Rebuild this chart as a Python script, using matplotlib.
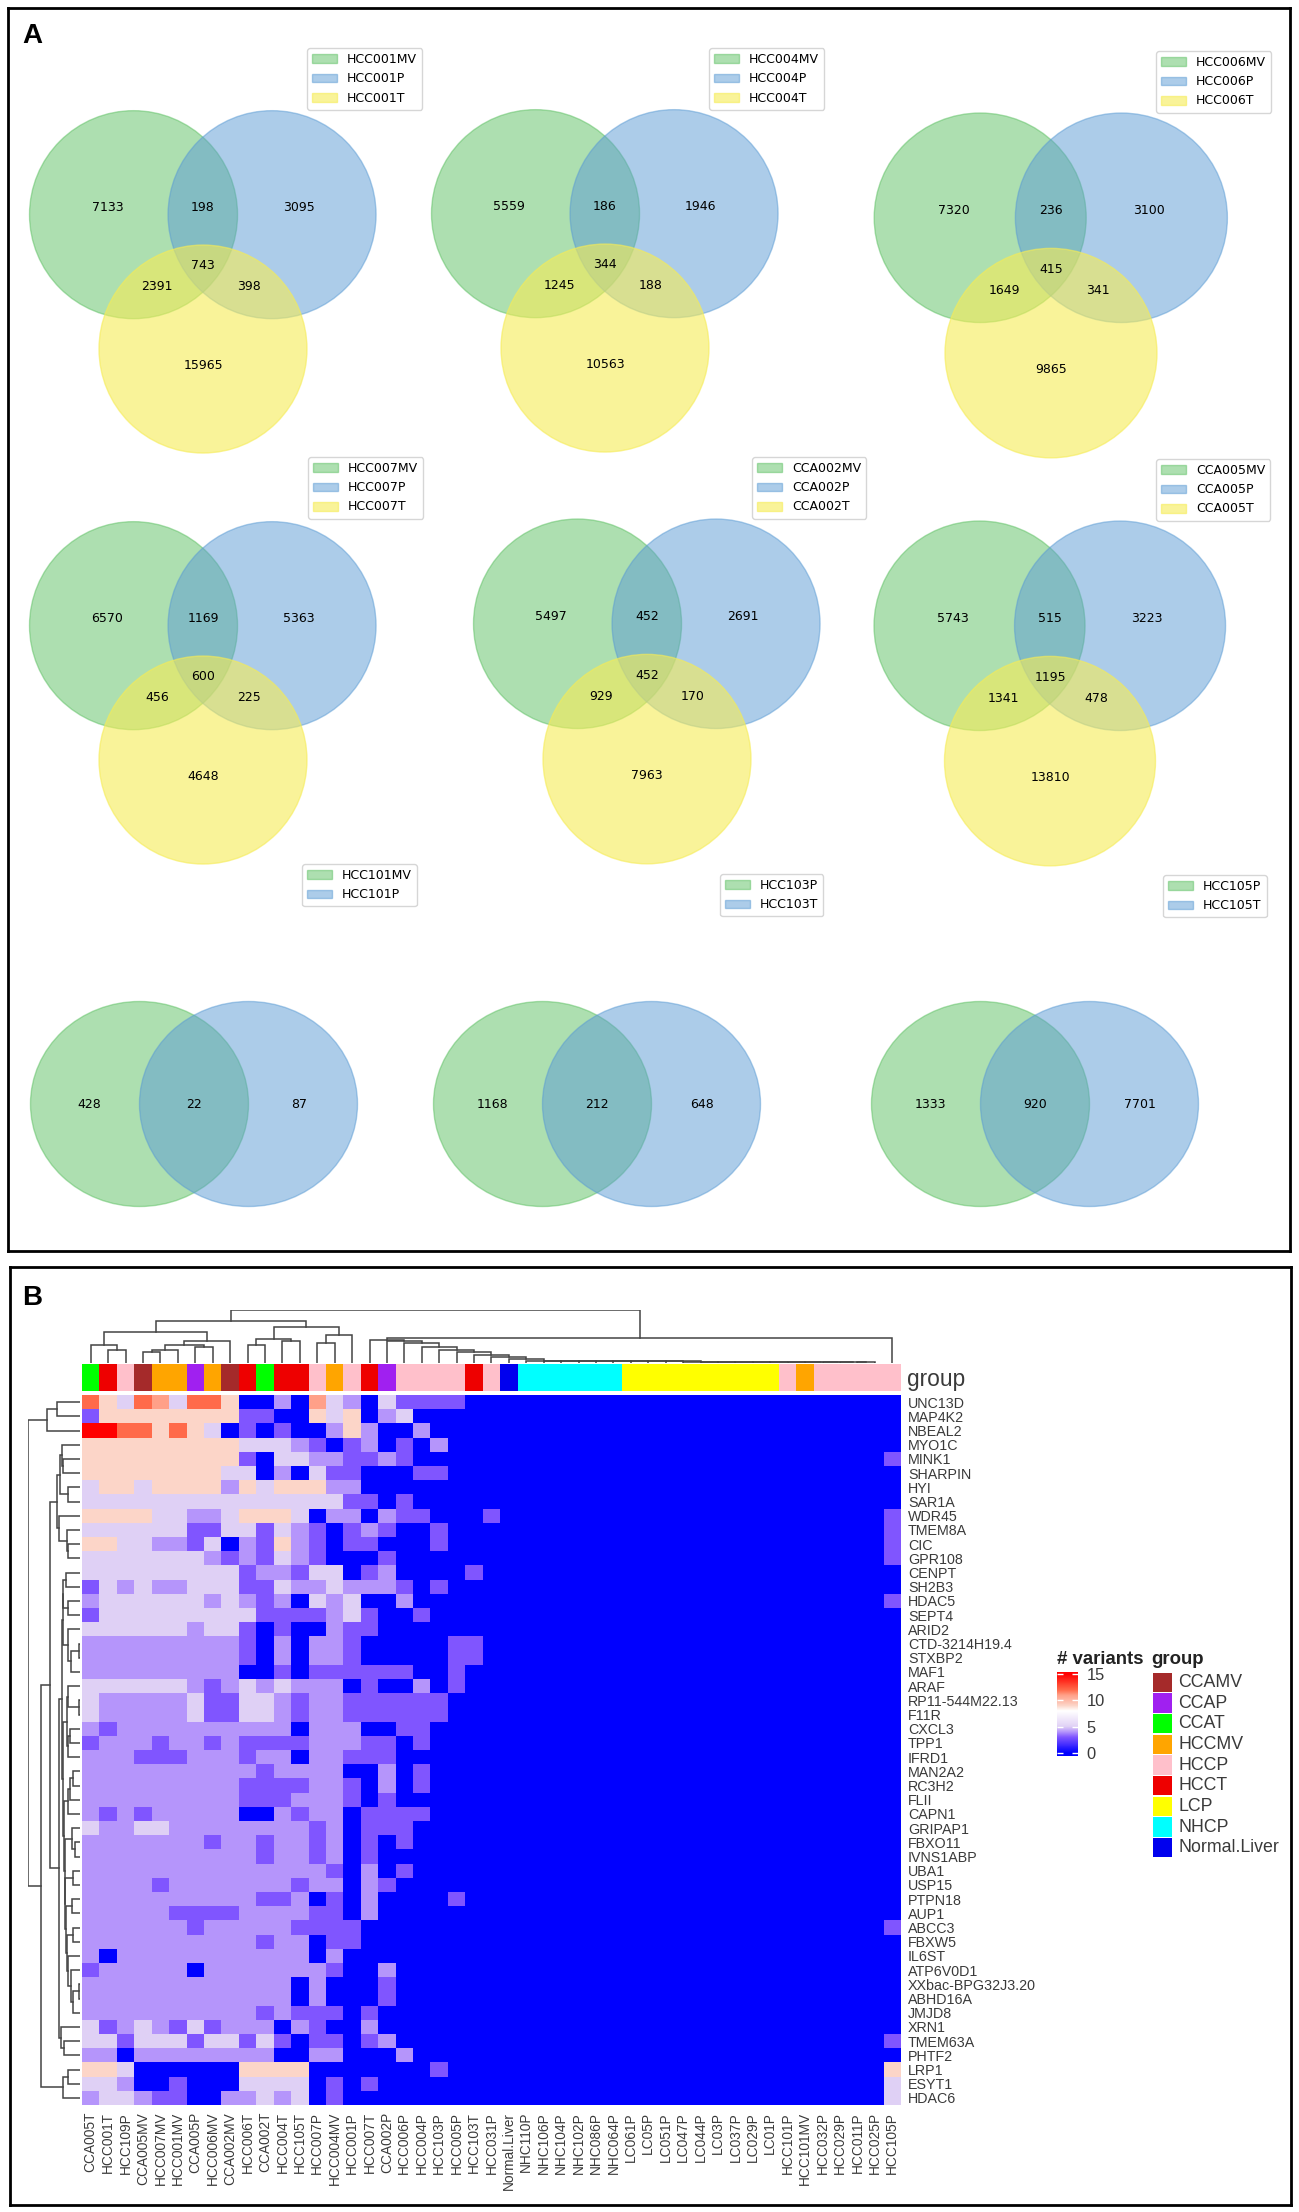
import numpy as np
import matplotlib
matplotlib.use('Agg')
import matplotlib.pyplot as plt
from matplotlib.colors import LinearSegmentedColormap, ListedColormap, Normalize
from matplotlib.cm import ScalarMappable
from matplotlib.patches import Ellipse, Patch

W, H = 1299, 2212
SANS = 'Liberation Sans'
TXT = '#3a3a3a'

# ---- panel A data
VENN3_NAMES = [
    ['HCC001MV', 'HCC001P', 'HCC001T'],
    ['HCC004MV', 'HCC004P', 'HCC004T'],
    ['HCC006MV', 'HCC006P', 'HCC006T'],
    ['HCC007MV', 'HCC007P', 'HCC007T'],
    ['CCA002MV', 'CCA002P', 'CCA002T'],
    ['CCA005MV', 'CCA005P', 'CCA005T'],
]
# order: 100, 110, 010, 111, 101, 011, 001
VENN3_COUNTS = [
    [7133, 198, 3095, 743, 2391, 398, 15965],
    [5559, 186, 1946, 344, 1245, 188, 10563],
    [7320, 236, 3100, 415, 1649, 341, 9865],
    [6570, 1169, 5363, 600, 456, 225, 4648],
    [5497, 452, 2691, 452, 929, 170, 7963],
    [5743, 515, 3223, 1195, 1341, 478, 13810],
]
VENN2_NAMES = [
    ['HCC101MV', 'HCC101P'],
    ['HCC103P', 'HCC103T'],
    ['HCC105P', 'HCC105T'],
]
# order: 10, 11, 01
VENN2_COUNTS = [
    [428, 22, 87],
    [1168, 212, 648],
    [1333, 920, 7701],
]

# ---- panel B data
SAMPLES = ['CCA005T', 'HCC001T', 'HCC109P', 'CCA005MV', 'HCC007MV', 'HCC001MV', 'CCA005P', 'HCC006MV',
           'CCA002MV', 'HCC006T', 'CCA002T', 'HCC004T', 'HCC105T', 'HCC007P', 'HCC004MV', 'HCC001P',
           'HCC007T', 'CCA002P', 'HCC006P', 'HCC004P', 'HCC103P', 'HCC005P', 'HCC103T', 'HCC031P',
           'Normal.Liver', 'NHC110P', 'NHC106P', 'NHC104P', 'NHC102P', 'NHC086P', 'NHC064P', 'LC061P',
           'LC05P', 'LC051P', 'LC047P', 'LC044P', 'LC03P', 'LC037P', 'LC029P', 'LC01P', 'HCC101P',
           'HCC101MV', 'HCC032P', 'HCC029P', 'HCC011P', 'HCC025P', 'HCC105P']
SAMPLE_GROUPS = ['CCAT', 'HCCT', 'HCCP', 'CCAMV', 'HCCMV', 'HCCMV', 'CCAP', 'HCCMV', 'CCAMV', 'HCCT', 'CCAT',
                 'HCCT', 'HCCT', 'HCCP', 'HCCMV', 'HCCP', 'HCCT', 'CCAP', 'HCCP', 'HCCP', 'HCCP', 'HCCP',
                 'HCCT', 'HCCP', 'Normal.Liver', 'NHCP', 'NHCP', 'NHCP', 'NHCP', 'NHCP', 'NHCP', 'LCP', 'LCP',
                 'LCP', 'LCP', 'LCP', 'LCP', 'LCP', 'LCP', 'LCP', 'HCCP', 'HCCMV', 'HCCP', 'HCCP', 'HCCP',
                 'HCCP', 'HCCP']
GROUPS = ['CCAMV', 'CCAP', 'CCAT', 'HCCMV', 'HCCP', 'HCCT', 'LCP', 'NHCP', 'Normal.Liver']
GROUP_COLORS = ['#a52a2a', '#a020f0', '#00ff00', '#ffa500', '#ffc0cb', '#ee0000', '#ffff00', '#00ffff', '#0000ee']
GENES = ['UNC13D', 'MAP4K2', 'NBEAL2', 'MYO1C', 'MINK1', 'SHARPIN', 'HYI', 'SAR1A', 'WDR45', 'TMEM8A', 'CIC',
         'GPR108', 'CENPT', 'SH2B3', 'HDAC5', 'SEPT4', 'ARID2', 'CTD-3214H19.4', 'STXBP2', 'MAF1', 'ARAF',
         'RP11-544M22.13', 'F11R', 'CXCL3', 'TPP1', 'IFRD1', 'MAN2A2', 'RC3H2', 'FLII', 'CAPN1', 'GRIPAP1',
         'FBXO11', 'IVNS1ABP', 'UBA1', 'USP15', 'PTPN18', 'AUP1', 'ABCC3', 'FBXW5', 'IL6ST', 'ATP6V0D1',
         'XXbac-BPG32J3.20', 'ABHD16A', 'JMJD8', 'XRN1', 'TMEM63A', 'PHTF2', 'LRP1', 'ESYT1', 'HDAC6']

# one hex digit per sample, first 24 samples only, the rest are zero
VARIANTS = [
    'c95cb5cc9 004 0b5 405 3333 00',
    '3 99999999 33 00 9 5 9 0 4 5 00000',
    'ffcc9c95 0303 00 494 00 4 0000',
    '999999999 555 4 3 0 3 4 0 3 0 4 000',
    '999999999 3 0 55 44 33 4 3 00000',
    '99999999 55 0 4 0 5 33 000 33 000',
    '5 99 5 9999 4 9 5 999 44 00000000',
    '555555555555555 33 0 3 00000',
    '9999 55 44 5 999 5 0 44 0 4 33 000 3',
    '555555 33 55 3 5 4 3 0 3 4 3 00 3 000',
    '99 55 44 3 5 0 4 3 9 4 3 0 33 000 3 000',
    '5555555 4 3 4 3 5 4 3 000 3 000000',
    '555555555 3 44 3 55 0 3 4 0000 3 0',
    '3 5 4 5 44 555 33 5 44 5 444 3 0 3 000',
    '4 555555 4 5 4 3 4 0 5 4 5 00 4 00000',
    '3 555555555 3333 4 5 3 00 3 0000',
    '555555 4 55 3 0 3 00 4 33 0000000',
    '444444444 3 0 4 0 44 3 00000 33 0',
    '444444444 3 0 4 0 44 3 00000 33 0',
    '444444444 00 3 0 333333 00 3 00',
    '555555 4 3 4 5 4 5 444 0 3 00 4 0 3 00',
    '5 44444 5 33 55 4 3 44 333333 000',
    '5 44444 5 33 55 4 3 44 333333 000',
    '4 3 4444444444 0 444 00 33 0000',
    '3 444 3 44 3 4 3333 444 33 0 3 0000',
    '444 333 444 3 44 0 44 333 000000',
    '4444444444 3 4444 00 4 0 3 0000',
    '444444444 3333 44 3 0 4 0 3 0000',
    '444444444 333 444 3 0 3 000000',
    '4343 44444 00 4 3 44 0 3333 0000',
    '5 44 55 44444444 3 4 0 333 00000',
    '4444444 3 44 3 44 3 4 0 3 0 3 00000',
    '4444444444 3 44 3 4 0 3 0000000',
    '44444444444444 3 0 4 0 3 00000',
    '4444 3 4444444 3 44 0 4 3 000000',
    '4444444444 33 4 0 3 0 4 0000 3 00',
    '44444 3333 4444 33 0 4 0000000',
    '444444 3 44444 3333 00000000',
    '4444444444 3 44 0 33 00000000',
    '4 0 44444444444 0 4 000000000',
    '3 44444 0 4444444 3 00 4 000000',
    '444444444444 0 4 000 3 000000',
    '444444444444 0 4 000 3 000000',
    '4444444444 3 4 333 0 3 0000000',
    '53454353 444 0 4 3 00 4 0000000',
    '55 3 555 3 55 3 5 3 0 33 0 3 4 000000',
    '44 0 44444444 00 44 000 4 00000',
    '99 5 000000 9999 0000000 3 000',
    '55 4 00 3 000 5555 0 3 0 3 0000000',
    '4 55 4 33 00 44 5 4 5 0 3 000000000',
]
# HCC105P column, keyed by gene
LAST_SAMPLE_VARIANTS = {'MINK1': 3, 'WDR45': 3, 'TMEM8A': 3, 'CIC': 3, 'GPR108': 3, 'HDAC5': 3, 'ABCC3': 3,
                        'TMEM63A': 3, 'LRP1': 9, 'ESYT1': 5, 'HDAC6': 5}

COLOR_VALUES = [0, 3, 4, 5, 8, 9, 11, 12, 15]
COLOR_STOPS = ['#0000ff', '#8055ff', '#b595fb', '#dfd0f5', '#ffffff', '#fcd5c8', '#ffa088', '#ff6a4a', '#ff0000']

# dendrograms: (height, left, right), leaves are column / row numbers
CHAIN_HEIGHTS = [68, 66, 60, 48, 38, 33, 23, 16, 10,
                 6, 6, 5, 5, 5, 4, 4, 4, 4, 3, 3, 3, 3, 3, 3, 2, 2, 2, 2, 2]
COL_LEFT = (93, (54, 0, (38, 1, 2)), (65, (52, (38, (33, 3, 4), 5), (48, 6, 7)), 8))
COL_MID = (106, (70, (53, 9, 10), (66, 11, 12)), (83, (60, 13, 14), 15))

ROW_TOP = (100, (70, 0, 1), 2)
ROW_A = (70, (60, (55, 3, (50, 4, 5)), (35, 6, 7)), (62, 8, (40, 9, (35, 10, 11))))
ROW_B = (52, (50, (42, 12, 13), (35, 14, 15)), (35, 16, (27, (2, 17, 18), 19)))
ROW_C = (50, (40, (35, 20, (4, 21, 22)), (35, (30, 23, 24), 25)),
         (48, (35, (30, (20, 26, 27), 28), 29),
          (46, (25, 30, (15, 31, 32)),
           (44, (20, 33, 34),
            (42, (25, 35, 36),
             (40, (20, 37, 38),
              (35, 39, (28, 40, (20, (4, 41, 42), 43)))))))))
ROW_D = (58, 44, (48, 45, 46))
ROW_E = (50, (35, 47, 48), 49)
ROW_TREE = (156, ROW_TOP, (118, (90, ROW_A, (62, (54, ROW_B, ROW_C), ROW_D)), ROW_E))

# ---- venn styling, positions inside each venn box
V_GREEN = (92 / 255, 192 / 255, 98 / 255, 0.5)
V_BLUE = (90 / 255, 155 / 255, 212 / 255, 0.5)
V_YELLOW = (246 / 255, 236 / 255, 86 / 255, 0.6)
V3_CIRCLES = [(0.333, 0.633), (0.666, 0.633), (0.5, 0.310)]
V3_TEXT = [(0.27, 0.65), (0.50, 0.65), (0.73, 0.65), (0.50, 0.51), (0.39, 0.46), (0.61, 0.46), (0.50, 0.27)]
V2_CIRCLES = [(0.375, 0.3), (0.625, 0.3)]
V2_TEXT = [(0.26, 0.30), (0.50, 0.30), (0.74, 0.30)]

fig = plt.figure(figsize=(W / 100, H / 100), dpi=100)


def px_axes(x0, y0, x1, y1):
    # axes placed with picture pixels, y going down
    ax = fig.add_axes([x0 / W, 1 - y1 / H, (x1 - x0) / W, (y1 - y0) / H])
    ax.patch.set_alpha(0)
    return ax


def venn(box, colors, names, counts, circles, text_pos, ylim, legend_xy):
    ax = px_axes(*box)
    ax.set_xlim(0, 1)
    ax.set_ylim(0, ylim)
    ax.axis('off')
    handles = []
    for (cx, cy), c, name in zip(circles, colors, names):
        ax.add_patch(Ellipse((cx, cy), 0.5, 0.5, fc=c, ec=c, lw=1))
        handles.append(Patch(fc=c, ec=c, label=name))
    for (tx, ty), n in zip(text_pos, counts):
        ax.text(tx, ty, str(n), ha='center', va='center', fontsize=9, color='black')
    ax.legend(handles=handles, loc='upper left', fontsize=9, borderaxespad=0, fancybox=True,
              bbox_to_anchor=(legend_xy[0] / W, 1 - legend_xy[1] / H), bbox_transform=fig.transFigure)


def draw_tree(ax, node, horizontal):
    # returns leaf position and height of this node
    if not isinstance(node, tuple):
        return node, 0
    h, left, right = node
    p0, h0 = draw_tree(ax, left, horizontal)
    p1, h1 = draw_tree(ax, right, horizontal)
    xs, ys = [p0, p0, p1, p1], [h0, h, h, h1]
    if horizontal:
        ax.plot(ys, xs, color='#444444', lw=1.1, solid_joinstyle='miter')
    else:
        ax.plot(xs, ys, color='#444444', lw=1.1, solid_joinstyle='miter')
    return (p0 + p1) / 2, h


# ---- panel frames
for x0, y0, x1, y1 in [(8, 8, 1290, 1251), (10, 1267, 1291, 2205)]:
    frame = px_axes(x0, y0, x1, y1)
    frame.set_xticks([])
    frame.set_yticks([])
    for s in frame.spines.values():
        s.set_linewidth(2.0)
        s.set_color('black')
fig.text(22 / W, 1 - 43 / H, 'A', fontsize=20, fontweight='bold', family=SANS)
fig.text(22 / W, 1 - 1305 / H, 'B', fontsize=20, fontweight='bold', family=SANS)

# ---- panel A
V3_BOXES = [(-5, 62, 416, 416), (397, 61, 416, 416), (839, 64, 424, 419),
            (-5, 473, 416, 416), (439, 470, 416, 419), (839, 472, 422, 419)]
V3_LEGENDS = [(307, 48), (709, 48), (1156, 51), (308, 457), (752, 457), (1156, 459)]
for i in range(6):
    x0, y0, bw, bh = V3_BOXES[i]
    venn((x0, y0, x0 + bw, y0 + bh), [V_GREEN, V_BLUE, V_YELLOW], VENN3_NAMES[i], VENN3_COUNTS[i],
         V3_CIRCLES, V3_TEXT, 1, V3_LEGENDS[i])

V2_BOXES = [(-24, 940), (379, 940), (817, 940)]
V2_LEGENDS = [(302, 864), (720, 874), (1163, 875)]
for i in range(3):
    x0, y0 = V2_BOXES[i]
    venn((x0, y0, x0 + 436, y0 + 287), [V_GREEN, V_BLUE], VENN2_NAMES[i], VENN2_COUNTS[i],
         V2_CIRCLES, V2_TEXT, 0.7, V2_LEGENDS[i])

# ---- panel B heatmap
heat = np.zeros((len(GENES), len(SAMPLES)))
for r, row in enumerate(VARIANTS):
    vals = [int(c, 16) for c in row.replace(' ', '')]
    heat[r, :len(vals)] = vals
for gene, v in LAST_SAMPLE_VARIANTS.items():
    heat[GENES.index(gene), -1] = v

stops = [(v / 15, c) for v, c in zip(COLOR_VALUES, COLOR_STOPS)]
cmap = LinearSegmentedColormap.from_list('variants', stops, N=256)
norm = Normalize(0, 15)

ax = px_axes(82, 1395, 901, 2105)
ax.imshow(heat, aspect='auto', cmap=cmap, norm=norm, interpolation='nearest')
for s in ax.spines.values():
    s.set_visible(False)
ax.set_xticks(range(len(SAMPLES)))
ax.set_xticklabels(SAMPLES, rotation=90, family=SANS, fontsize=9.9, color=TXT)
ax.yaxis.tick_right()
ax.set_yticks(range(len(GENES)))
ax.set_yticklabels(GENES, family=SANS, fontsize=10.3, color=TXT)
ax.tick_params(length=0, pad=5)

# group strip
strip = px_axes(82, 1364, 901, 1391)
strip_idx = np.array([[GROUPS.index(g) for g in SAMPLE_GROUPS]])
strip.imshow(strip_idx, aspect='auto', cmap=ListedColormap(GROUP_COLORS), vmin=-0.5, vmax=8.5,
             interpolation='nearest')
strip.axis('off')
strip.text(1.007, 0.42, 'group', transform=strip.transAxes, family=SANS, fontsize=16.4, color=TXT,
           ha='left', va='center')

# dendrograms
chain = 45
for col, h in reversed(list(zip(range(16, 45), CHAIN_HEIGHTS))):
    chain = (h, col, chain)
col_tree = (158, (126, COL_LEFT, COL_MID), (73, chain, 46))

top = px_axes(82, 1310, 901, 1362.7)
top.set_xlim(-0.5, len(SAMPLES) - 0.5)
top.set_ylim(0, 158)
top.axis('off')
draw_tree(top, col_tree, False)

left = px_axes(28, 1395, 80, 2105)
left.set_xlim(156, 0)
left.set_ylim(len(GENES) - 0.5, -0.5)
left.axis('off')
draw_tree(left, ROW_TREE, True)

# colour bar
bar_stops = [(0, '#0000ff')] + [((v + 0.6) / 16, c) for v, c in zip(COLOR_VALUES, COLOR_STOPS)] + [(1, '#ff0000')]
cax = px_axes(1057, 1672, 1078, 1756)
cb = fig.colorbar(ScalarMappable(norm=Normalize(-0.6, 15.4),
                                 cmap=LinearSegmentedColormap.from_list('variants_bar', bar_stops)),
                  cax=cax, ticks=[0, 5, 10, 15])
cb.outline.set_visible(False)
cax.tick_params(axis='y', direction='in', color='white', length=4, width=1, left=True, right=True, pad=6)
cax.set_yticklabels(['0', '5', '10', '15'], family=SANS, fontsize=11.9, color=TXT)
fig.text(1057 / W, 1 - 1659 / H, '# variants', family=SANS, fontsize=13.4, fontweight='bold', color='#222222',
         va='center')
fig.text(1151 / W, 1 - 1659 / H, 'group', family=SANS, fontsize=13.4, fontweight='bold', color='#222222',
         va='center')

# group legend
lg = px_axes(1153, 1672, 1300, 1858)
lg.set_xlim(0, 1)
lg.set_ylim(len(GROUPS), 0)
lg.axis('off')
lg.barh(np.arange(len(GROUPS)) + 0.5, [19 / 147] * len(GROUPS), height=0.92, color=GROUP_COLORS)
for i, g in enumerate(GROUPS):
    lg.text(25 / 147, i + 0.5, g, family=SANS, fontsize=12.8, color=TXT, va='center', clip_on=False)

fig.savefig('out.png', dpi=100)
